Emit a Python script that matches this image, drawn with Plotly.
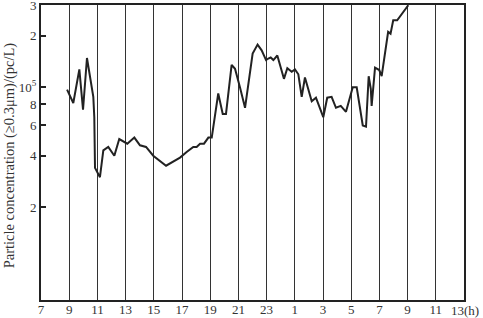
import plotly.graph_objects as go

# Time in hours from 7:00 on day 1 (values > 24 belong to the next day)
hours = [8.85, 9.29, 9.72, 9.98, 10.26, 10.71, 10.78, 10.83, 11.18, 11.42, 11.77,
         12.20, 12.55, 13.12, 13.62, 14.02, 14.45, 14.96, 15.87, 16.86, 17.33,
         17.80, 18.04, 18.28, 18.56, 18.87, 19.11, 19.22, 19.57, 19.89, 20.12,
         20.52, 20.76, 21.11, 21.47, 22.01, 22.36, 22.65, 22.96, 23.12, 23.29,
         23.48, 23.76, 24.23, 24.47, 24.78, 25.01, 25.25, 25.49, 25.72, 26.20,
         26.50, 26.80, 27.02, 27.30, 27.61, 27.92, 28.26, 28.63, 29.11, 29.39,
         29.82, 30.05, 30.24, 30.39, 30.45, 30.69, 30.99, 31.16, 31.52, 31.62,
         31.79, 31.98, 32.26, 32.98, 33.05]
# Particle concentration in units of 10^5 pc/L
conc = [0.97, 0.81, 1.27, 0.74, 1.48, 0.88, 0.67, 0.34, 0.30, 0.43, 0.45,
        0.40, 0.50, 0.47, 0.51, 0.46, 0.45, 0.40, 0.35, 0.39, 0.42,
        0.45, 0.45, 0.47, 0.47, 0.51, 0.51, 0.59, 0.92, 0.70, 0.70,
        1.35, 1.28, 1.00, 0.76, 1.57, 1.77, 1.64, 1.44, 1.47, 1.49,
        1.44, 1.53, 1.12, 1.29, 1.23, 1.27, 1.19, 0.88, 1.14, 0.83,
        0.87, 0.74, 0.67, 0.87, 0.88, 0.76, 0.78, 0.72, 1.00, 1.00,
        0.60, 0.59, 1.16, 0.98, 0.78, 1.30, 1.26, 1.16, 1.96, 2.10,
        2.05, 2.45, 2.45, 2.93, 3.00]

x_tickvals = [7, 9, 11, 13, 15, 17, 19, 21, 23, 25, 27, 29, 31, 33, 35, 37]
x_ticktext = ["7", "9", "11", "13", "15", "17", "19", "21", "23", "1", "3", "5",
              "7", "9", "11", "13"]
y_tickvals = [3, 2, 1, 0.8, 0.6, 0.4, 0.2]
y_ticktext = ["3", "2", "10<sup>5</sup>", "8", "6", "4", "2"]
y_title = "Particle concentration (≥0.3μm)/(pc/L)"
x_unit = "(h)"

font = "Liberation Serif, Times New Roman, serif"
ink = "#333333"

fig = go.Figure()
fig.add_trace(go.Scatter(x=hours, y=conc, mode="lines",
                         line=dict(color="#222222", width=2),
                         showlegend=False, hoverinfo="skip"))

# last tick label is drawn together with the unit so it can hang off the right edge
axis_ticktext = x_ticktext[:-1] + [""]

fig.update_layout(
    width=483, height=318,
    margin=dict(l=41, r=19, t=5, b=18),
    paper_bgcolor="white", plot_bgcolor="white",
    font=dict(family=font, size=13, color=ink),
    xaxis=dict(range=[7, 37], tickvals=x_tickvals, ticktext=axis_ticktext,
               showgrid=True, gridcolor="#333333", gridwidth=1,
               showline=True, linecolor="#222222", linewidth=2, mirror=True,
               ticks="", zeroline=False, tickfont=dict(size=13),
               ticklabeloverflow="allow", ticklabelstandoff=-4, automargin=False),
    yaxis=dict(type="log", range=[-1.237, 0.4785], tickvals=y_tickvals,
               ticktext=y_ticktext, showgrid=False,
               showline=True, linecolor="#222222", linewidth=2, mirror=True,
               ticks="inside", ticklen=5, tickcolor="#222222", tickwidth=1.5,
               zeroline=False, tickfont=dict(size=13),
               ticklabeloverflow="allow", automargin=False),
)
fig.add_annotation(x=-0.0735, y=0.49, xref="paper", yref="paper", text=y_title,
                   textangle=-90, showarrow=False, xanchor="center", yanchor="middle",
                   font=dict(size=14.5, family=font, color=ink))
fig.add_annotation(x=1, y=0, xref="paper", yref="paper", text=x_ticktext[-1] + x_unit,
                   showarrow=False, xanchor="right", yanchor="middle",
                   xshift=17, yshift=-10, font=dict(size=13, family=font, color=ink))

fig.write_html("out.html", config={"displayModeBar": False},
               post_script="document.body.style.margin='0';document.body.style.padding='0';")
